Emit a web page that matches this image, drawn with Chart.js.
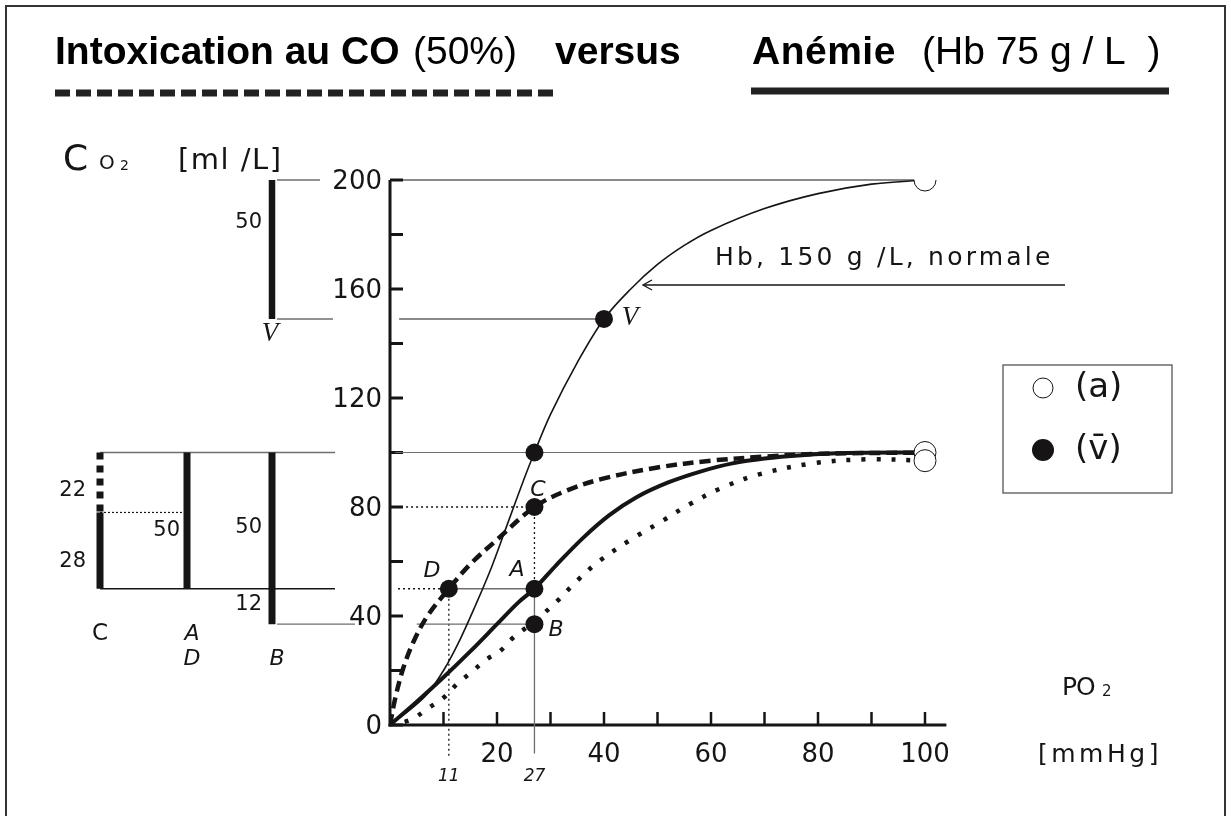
<!DOCTYPE html>
<html lang="fr">
<head>
<meta charset="utf-8">
<title>Intoxication au CO versus Anémie</title>
<script src="https://cdn.jsdelivr.net/npm/chart.js@4.4.1/dist/chart.umd.min.js"></script>
<style>
  html, body { margin: 0; padding: 0; background: #fff; }
  canvas { display: block; }
</style>
</head>
<body>
<canvas id="chart" width="1231" height="816"></canvas>
<script>
// Courbes de dissociation de l'O2 : PO2 [mmHg] -> contenu en O2 [ml/L]
const po2Normal = [0, 4, 7, 10, 13, 16, 19, 22, 25, 27, 30, 35, 40, 45, 50, 55, 60, 70, 80, 90, 100];
const co2Normal = [0, 6, 11.5, 20, 31, 44, 58, 74, 90, 100, 114, 133, 149, 160, 169, 176, 181.5, 189.5, 195, 198.5, 200];

const po2Anemie = [0, 5, 10, 15, 20, 24, 27, 31, 36, 41, 46, 52, 58, 64, 70, 77, 85, 100];
const co2Anemie = [0, 8.5, 17.5, 27, 37, 45, 50, 58.5, 68.5, 77, 83.5, 89, 93, 96, 97.8, 99, 99.8, 100];

const po2CO = [0, 1, 2.5, 4.5, 7, 11, 15, 20, 27, 33, 40, 50, 60, 70, 80, 100];
const co2CO = [0, 10, 21, 31, 40, 50, 59, 68, 80, 86, 90.5, 94.5, 97, 98.5, 99.5, 100];

const po2Pointille = [0, 4, 7, 10, 12.5, 15, 18, 20.5, 23, 27, 31, 35, 39, 45, 51, 56, 62, 69, 79, 89, 100];
const co2Pointille = [0, 2, 6, 10, 15, 19, 24, 27, 32, 38, 45, 53, 60, 68, 75, 81, 87, 92, 96, 97.5, 97];

// points veineux (pleins) : V, normal 27, C, A, B, D
const po2Veineux = [40, 27, 27, 27, 27, 11];
const co2Veineux = [149, 100, 80, 50, 37, 50];
// points artériels (vides)
const po2Arteriel = [100, 100, 100];
const co2Arteriel = [200, 100, 97];

const xTicks = [10, 20, 30, 40, 50, 60, 70, 80, 90, 100];
const xTickLabels = [20, 40, 60, 80, 100];
const yTicks = [0, 20, 40, 60, 80, 100, 120, 140, 160, 180, 200];
const yTickLabels = [0, 40, 80, 120, 160, 200];
const xMarks = [11, 27];

const pts = (xs, ys) => xs.map((x, i) => ({ x, y: ys[i] }));
const ink = '#161414';
const grey = '#6e6e6e';

function seg(data, color, width, dash) {
  return {
    data, showLine: true, borderColor: color, borderWidth: width,
    borderDash: dash || [], pointRadius: 0, clip: false, order: 3,
  };
}

function curve(xs, ys, width, dash) {
  return {
    data: pts(xs, ys), showLine: true, borderColor: ink, borderWidth: width,
    borderDash: dash || [], borderCapStyle: 'butt', pointRadius: 0,
    tension: 0.35, order: 2,
  };
}

function text(ctx, str, x, y, font, align, spacing) {
  ctx.font = font;
  ctx.textAlign = align || 'left';
  ctx.textBaseline = 'middle';
  ctx.letterSpacing = (spacing || 0) + 'px';
  ctx.fillText(str, x, y);
  ctx.letterSpacing = '0px';
}

function vline(ctx, x, y0, y1, w, color, dash) {
  ctx.save();
  ctx.strokeStyle = color; ctx.lineWidth = w; ctx.setLineDash(dash || []);
  ctx.beginPath(); ctx.moveTo(x, y0); ctx.lineTo(x, y1); ctx.stroke();
  ctx.restore();
}

function hline(ctx, x0, x1, y, w, color, dash) {
  ctx.save();
  ctx.strokeStyle = color; ctx.lineWidth = w; ctx.setLineDash(dash || []);
  ctx.beginPath(); ctx.moveTo(x0, y); ctx.lineTo(x1, y); ctx.stroke();
  ctx.restore();
}

const diagram = {
  id: 'diagram',
  beforeDatasetsDraw(chart) {
    const { ctx } = chart;
    const xs = chart.scales.x, ys = chart.scales.y;
    const x0 = xs.getPixelForValue(0), y0 = ys.getPixelForValue(0);

    // cadre
    ctx.save();
    ctx.strokeStyle = '#333'; ctx.lineWidth = 2;
    ctx.strokeRect(6, 6, 1219, 840);

    // axes + graduations vers l'intérieur
    vline(ctx, x0, y0 + 1.5, ys.getPixelForValue(200), 3, ink);
    hline(ctx, x0 - 1.5, xs.getPixelForValue(104), y0, 3, ink);
    yTicks.forEach((v) => hline(ctx, x0, x0 + 13, ys.getPixelForValue(v), 3, ink));
    xTicks.forEach((v) => vline(ctx, xs.getPixelForValue(v), y0, y0 - 13, 2.5, ink));

    ctx.fillStyle = ink;
    yTickLabels.forEach((v) => text(ctx, String(v), x0 - 8, ys.getPixelForValue(v) + 2, '26px "DejaVu Sans"', 'right'));
    xTickLabels.forEach((v) => text(ctx, String(v), xs.getPixelForValue(v), 755, '26px "DejaVu Sans"', 'center'));
    xMarks.forEach((v) => text(ctx, String(v), xs.getPixelForValue(v), 777, 'italic 17px "DejaVu Sans"', 'center'));

    // barres de différence artério-veineuse (à gauche)
    const yv = (v) => ys.getPixelForValue(v);
    hline(ctx, 277, 320, yv(200), 1.3, grey);
    hline(ctx, 277, 333, yv(co2Veineux[0]), 1.3, grey);
    hline(ctx, 100, 335, yv(100), 1.3, grey);
    hline(ctx, 100, 335, yv(50), 1.3, ink);
    hline(ctx, 277, 355, yv(co2Veineux[4]), 1.3, grey);
    hline(ctx, 100, 183, yv(78), 1.2, ink, [2, 2]);

    vline(ctx, 272, yv(200), yv(co2Veineux[0]), 6.5, ink);
    vline(ctx, 100, yv(100), yv(78), 7, ink, [7, 6]);
    vline(ctx, 100, yv(78), yv(50), 7, ink);
    vline(ctx, 187, yv(100), yv(50), 7, ink);
    vline(ctx, 272, yv(100), yv(co2Veineux[4]), 7, ink);

    const f = '21px "DejaVu Sans"';
    text(ctx, '50', 262, 223, f, 'right');
    text(ctx, '22', 86, 491, f, 'right');
    text(ctx, '28', 86, 562, f, 'right');
    text(ctx, '50', 180, 531, f, 'right');
    text(ctx, '50', 262, 528, f, 'right');
    text(ctx, '12', 262, 605, f, 'right');
    text(ctx, 'C', 100, 634, '23px "DejaVu Sans"', 'center');
    text(ctx, 'A', 192, 634, 'italic 22px "DejaVu Sans"', 'center');
    text(ctx, 'D', 192, 659, 'italic 22px "DejaVu Sans"', 'center');
    text(ctx, 'B', 277, 659, 'italic 22px "DejaVu Sans"', 'center');
    text(ctx, 'V', 270, 334, 'italic 27px "Liberation Serif"', 'center');
    ctx.restore();
  },
  afterDatasetsDraw(chart) {
    const { ctx } = chart;
    ctx.save();
    ctx.fillStyle = '#000';

    // titre
    const bold = 'bold 39px "Liberation Sans"', reg = '39px "Liberation Sans"';
    text(ctx, 'Intoxication au CO', 55, 53, bold);
    text(ctx, '(50%)', 413, 53, reg);
    text(ctx, 'versus', 555, 53, bold);
    text(ctx, 'Anémie', 752, 53, bold, 'left', 0.5);
    text(ctx, '(Hb 75 g / L  )', 922, 53, reg);
    hline(ctx, 55, 557, 93, 7, '#222', [15, 6]);
    hline(ctx, 751, 1169, 91, 7, '#222');

    // unités
    ctx.fillStyle = ink;
    text(ctx, 'C', 63, 161, '36px "DejaVu Sans"');
    text(ctx, 'O', 99, 164, '20px "DejaVu Sans"');
    text(ctx, '2', 120, 166, '14px "DejaVu Sans"');
    text(ctx, '[ml /L]', 178, 161, '29px "DejaVu Sans"', 'left', 1.5);
    text(ctx, 'PO', 1062, 688, '25px "DejaVu Sans"', 'left', -1);
    text(ctx, '2', 1102, 692, '15px "DejaVu Sans"');
    text(ctx, '[mmHg]', 1038, 755, '25px "DejaVu Sans"', 'left', 3.5);

    // libellés des points
    text(ctx, 'C', 538, 490, 'italic 22px "DejaVu Sans"', 'center');
    text(ctx, 'D', 432, 571, 'italic 22px "DejaVu Sans"', 'center');
    text(ctx, 'A', 517, 570, 'italic 22px "DejaVu Sans"', 'center');
    text(ctx, 'B', 556, 630, 'italic 22px "DejaVu Sans"', 'center');
    text(ctx, 'V', 630, 318, 'italic 27px "Liberation Serif"', 'center');

    // annotation courbe normale
    text(ctx, 'Hb, 150 g /L, normale', 715, 258, '25px "DejaVu Sans"', 'left', 3.2);
    hline(ctx, 643, 1065, 285, 1.3, ink);
    ctx.strokeStyle = ink; ctx.lineWidth = 1.3;
    ctx.beginPath(); ctx.moveTo(652, 280); ctx.lineTo(643, 285); ctx.lineTo(652, 290); ctx.stroke();

    // légende
    ctx.strokeStyle = '#555'; ctx.lineWidth = 1.3;
    ctx.strokeRect(1003, 365, 169, 128);
    ctx.beginPath(); ctx.arc(1043, 388, 10, 0, Math.PI * 2);
    ctx.fillStyle = '#fff'; ctx.fill(); ctx.strokeStyle = ink; ctx.lineWidth = 1; ctx.stroke();
    ctx.beginPath(); ctx.arc(1043, 450, 11, 0, Math.PI * 2);
    ctx.fillStyle = ink; ctx.fill();
    text(ctx, '(a)', 1075, 388, '34px "DejaVu Sans"');
    text(ctx, '(v\u0304)', 1075, 450, '34px "DejaVu Sans"');
    ctx.restore();
  },
};

const venous = pts(po2Veineux, co2Veineux);
const C = venous[2], A = venous[3], B = venous[4], D = venous[5], V = venous[0];

new Chart(document.getElementById('chart'), {
  type: 'scatter',
  data: {
    datasets: [
      {
        data: venous, showLine: false, pointRadius: 9, pointBorderWidth: 0,
        pointBackgroundColor: ink, order: 0,
      },
      {
        data: pts(po2Arteriel, co2Arteriel), showLine: false, pointRadius: 11,
        pointBorderWidth: 1, pointBorderColor: ink, pointBackgroundColor: '#fff', order: 0,
      },
      curve(po2Normal, co2Normal, 1.6),
      curve(po2Anemie, co2Anemie, 4),
      curve(po2CO, co2CO, 4.5, [11, 6]),
      curve(po2Pointille, co2Pointille, 4.5, [4, 11]),
      // lignes de repère
      seg([{ x: 1.7, y: 200 }, { x: 98, y: 200 }], ink, 1.2),
      seg([{ x: 1.7, y: V.y }, { x: V.x, y: V.y }], ink, 1.2),
      seg([{ x: 1, y: 100 }, { x: 98, y: 100 }], grey, 1.2),
      seg([{ x: 3, y: C.y }, { x: C.x, y: C.y }], ink, 1.3, [2, 3]),
      seg([{ x: C.x, y: C.y }, { x: A.x, y: A.y }], ink, 1.3, [2, 3]),
      seg([{ x: 1.5, y: D.y }, { x: D.x, y: D.y }], ink, 1.3, [2, 3]),
      seg([{ x: D.x, y: D.y }, { x: A.x, y: A.y }], grey, 1.3),
      seg([{ x: 5, y: B.y }, { x: B.x, y: B.y }], grey, 1.3),
      seg([{ x: A.x, y: A.y }, { x: A.x, y: -10.5 }], grey, 1.3),
      seg([{ x: D.x, y: D.y }, { x: D.x, y: -12 }], ink, 1.3, [2, 3]),
    ],
  },
  options: {
    responsive: false,
    animation: false,
    layout: { padding: { left: 390, right: 284.6, top: 180, bottom: 91 } },
    plugins: { legend: { display: false }, tooltip: { enabled: false } },
    scales: {
      x: { type: 'linear', min: 0, max: 104, display: false },
      y: { type: 'linear', min: 0, max: 200, display: false },
    },
  },
  plugins: [diagram],
});
</script>
</body>
</html>
